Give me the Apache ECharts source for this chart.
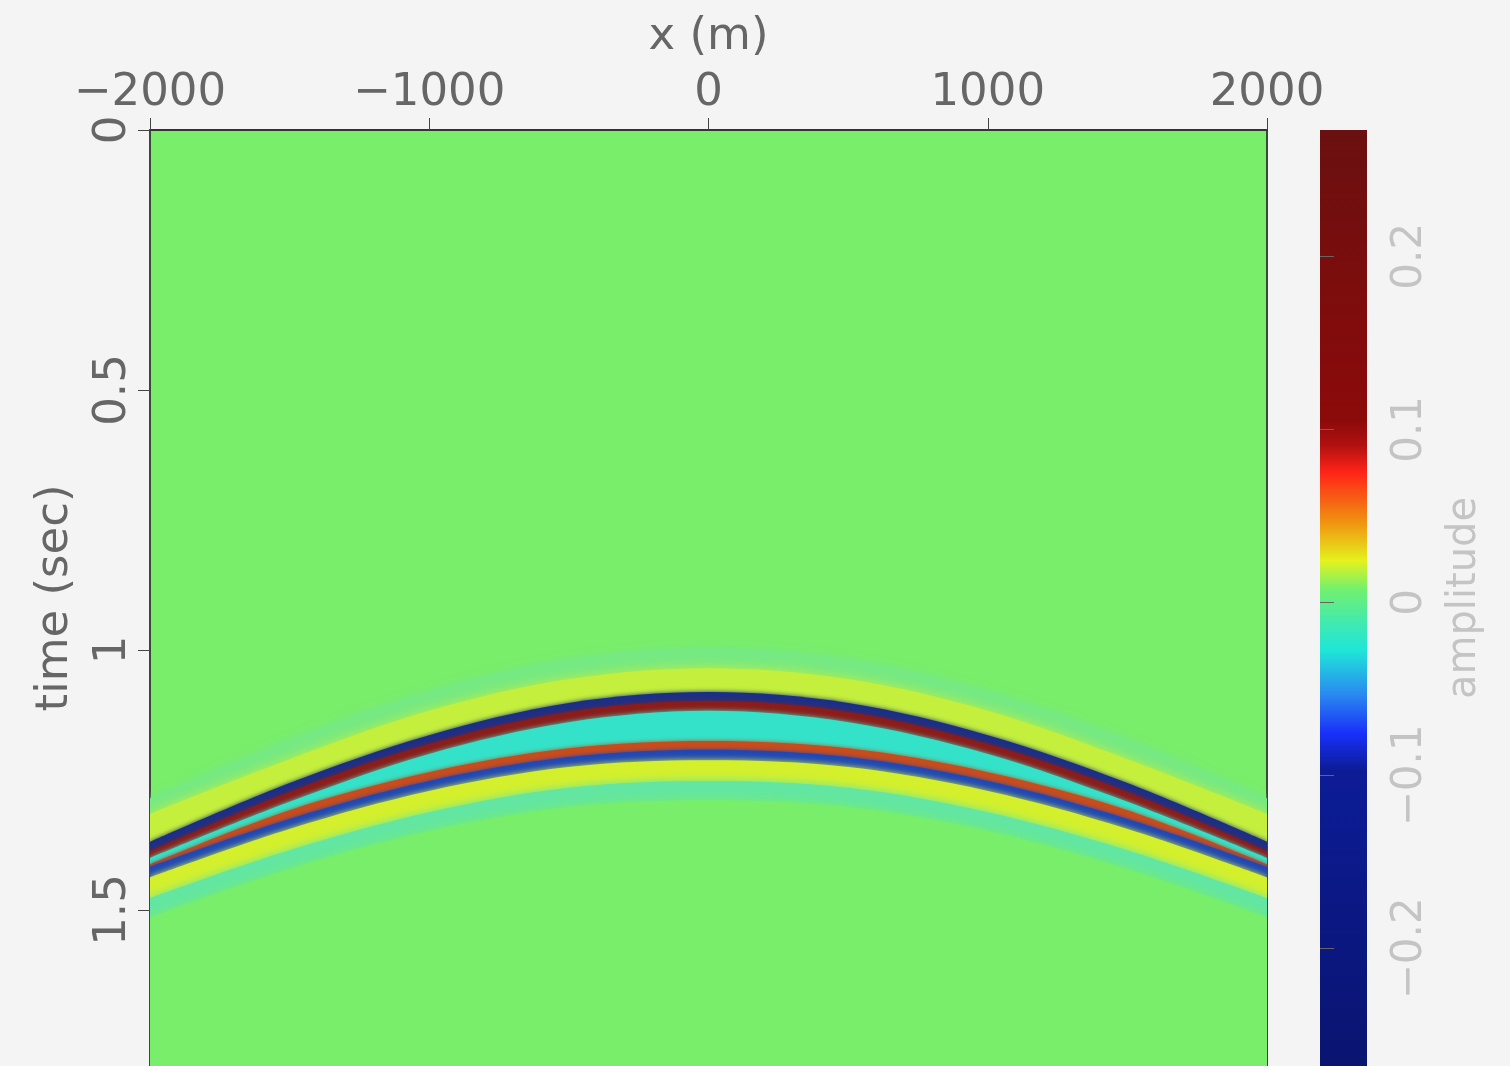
<!DOCTYPE html>
<html>
<head>
<meta charset="utf-8">
<script src="https://cdn.jsdelivr.net/npm/echarts@6/dist/echarts.min.js"></script>
<style>
  html, body { margin: 0; padding: 0; background: #f4f4f4; }
  #chart { width: 1510px; height: 1066px; }
</style>
</head>
<body>
<div id="chart"></div>
<script>
// offsets where the event was read (m)
const xPos = [-2000, -1500, -1000, -500, 0, 500, 1000, 1500, 2000];

// band boundaries (time in s), top to bottom
const haloTop    = [1.285, 1.171, 1.079, 1.017, 0.996, 1.017, 1.079, 1.171, 1.285];
const yellowTop  = [1.315, 1.210, 1.117, 1.056, 1.035, 1.056, 1.117, 1.210, 1.315];
const blueTop    = [1.369, 1.256, 1.164, 1.102, 1.081, 1.102, 1.164, 1.256, 1.369];
const redTop     = [1.387, 1.273, 1.181, 1.119, 1.098, 1.119, 1.181, 1.273, 1.387];
const cyanTop    = [1.400, 1.292, 1.200, 1.139, 1.117, 1.139, 1.200, 1.292, 1.400];
const red2Top    = [1.412, 1.308, 1.235, 1.189, 1.175, 1.189, 1.235, 1.308, 1.412];
const blue2Top   = [1.417, 1.325, 1.252, 1.206, 1.192, 1.206, 1.252, 1.325, 1.417];
const yellow2Top = [1.437, 1.344, 1.271, 1.225, 1.212, 1.225, 1.271, 1.344, 1.437];
const cyan2Top   = [1.477, 1.385, 1.312, 1.265, 1.252, 1.265, 1.312, 1.385, 1.477];
const haloBottom = [1.514, 1.421, 1.348, 1.302, 1.289, 1.302, 1.348, 1.421, 1.514];

// each boundary starts a band of this colour (the last one goes back to background)
const boundaries = [haloTop, yellowTop, blueTop, redTop, cyanTop, red2Top,
                    blue2Top, yellow2Top, cyan2Top, haloBottom];
const bandColors = ['#76e982', '#c4ef3c', '#1c2f86', '#8a1d1a', '#33e2c8',
                    '#c84c1c', '#1f48b4', '#d4f02c', '#62e6a2', '#79ee6a'];
const bandBlur = [10, 12, 5, 4, 5, 4, 4, 6, 10, 12];

const xTicks = [-2000, -1000, 0, 1000, 2000];
const tTicks = [0, 0.5, 1, 1.5];
const ampTicks = [-0.2, -0.1, 0, 0.1, 0.2];

// colorbar: [amplitude, colour]
const cbMin = -0.268, cbMax = 0.273;
const cbStops = [
  [0.273, '#6a1010'], [0.105, '#8c0a0a'], [0.091, '#b01010'], [0.075, '#ff2418'],
  [0.047, '#f09010'], [0.024, '#e4f21e'], [0.007, '#70f070'], [-0.012, '#40eab0'],
  [-0.028, '#1ee6d8'], [-0.053, '#2a8af0'], [-0.076, '#1830f8'], [-0.097, '#0c1c96'],
  [-0.268, '#0a1470']
];

const minus = v => String(v).replace('-', '\u2212');
const font = 'DejaVu Sans';

const chart = echarts.init(document.getElementById('chart'));

// every boundary fills down to the bottom of the plot; later ones paint over earlier ones
const series = boundaries.map((b, k) => ({
  type: 'line',
  smooth: 0.34,
  symbol: 'none',
  lineStyle: { width: 0, opacity: 0 },
  areaStyle: {
    color: bandColors[k], opacity: 1, origin: 'end',
    shadowBlur: bandBlur[k], shadowColor: bandColors[k]
  },
  data: xPos.map((x, i) => [x, b[i]]),
  z: 2 + k,
  silent: true
}));

const span = cbMax - cbMin;
const gradient = new echarts.graphic.LinearGradient(0, 0, 0, 1,
  cbStops.map(s => ({ offset: (cbMax - s[0]) / span, color: s[1] })));

const frameAxis = {
  axisLabel: { show: false }, axisTick: { show: false }, splitLine: { show: false }
};

chart.setOption({
  backgroundColor: '#f4f4f4',
  animation: false,
  grid: [
    { left: 150, top: 130, width: 1117, height: 936, show: true,
      backgroundColor: '#79ee6a', borderColor: '#3c4a3c', borderWidth: 1 },
    { left: 1320, top: 130, width: 47, height: 936, show: true,
      backgroundColor: gradient, borderWidth: 0 }
  ],
  xAxis: [
    {
      type: 'value', gridIndex: 0, position: 'top',
      min: -2000, max: 2000, interval: 1000,
      name: 'x (m)', nameLocation: 'middle', nameGap: 70,
      nameTextStyle: { fontFamily: font, fontSize: 45, color: '#666' },
      axisLine: { show: true, onZero: false, lineStyle: { color: '#333', width: 2 } },
      axisTick: { show: true, length: 12, lineStyle: { color: '#444' } },
      axisLabel: { fontFamily: font, fontSize: 45, color: '#666', margin: 14,
                   formatter: minus, customValues: xTicks },
      splitLine: { show: false }
    },
    { type: 'value', gridIndex: 1, min: 0, max: 1, show: false }
  ],
  yAxis: [
    {
      type: 'value', gridIndex: 0, inverse: true,
      min: 0, max: 1.8, interval: 0.5,
      name: 'time (sec)', nameLocation: 'middle', nameGap: 72, nameRotate: 90,
      nameTextStyle: { fontFamily: font, fontSize: 45, color: '#666' },
      axisLine: { show: true, onZero: false, lineStyle: { color: '#3a4a3a', width: 2 } },
      axisTick: { show: true, length: 12, lineStyle: { color: '#444' } },
      axisLabel: { fontFamily: font, fontSize: 45, color: '#666', margin: 14, rotate: 90,
                   customValues: tTicks },
      splitLine: { show: false }
    },
    {
      type: 'value', gridIndex: 1, position: 'right',
      min: cbMin, max: cbMax,
      name: 'amplitude', nameLocation: 'middle', nameGap: 78, nameRotate: 90,
      nameTextStyle: { fontFamily: font, fontSize: 40, color: '#c4c4c4' },
      axisLine: { show: false },
      axisTick: { show: true, length: 14, customValues: ampTicks,
                  lineStyle: { color: '#666' } },
      axisLabel: { fontFamily: font, fontSize: 42, color: '#c4c4c4', margin: 22, rotate: 90,
                   formatter: minus, customValues: ampTicks },
      splitLine: { show: false }
    },
    Object.assign({
      type: 'value', gridIndex: 0, position: 'right', inverse: true, min: 0, max: 1.8,
      axisLine: { show: true, onZero: false, lineStyle: { color: '#3a4a3a', width: 2 } }
    }, frameAxis)
  ],
  series: series
});
</script>
</body>
</html>
